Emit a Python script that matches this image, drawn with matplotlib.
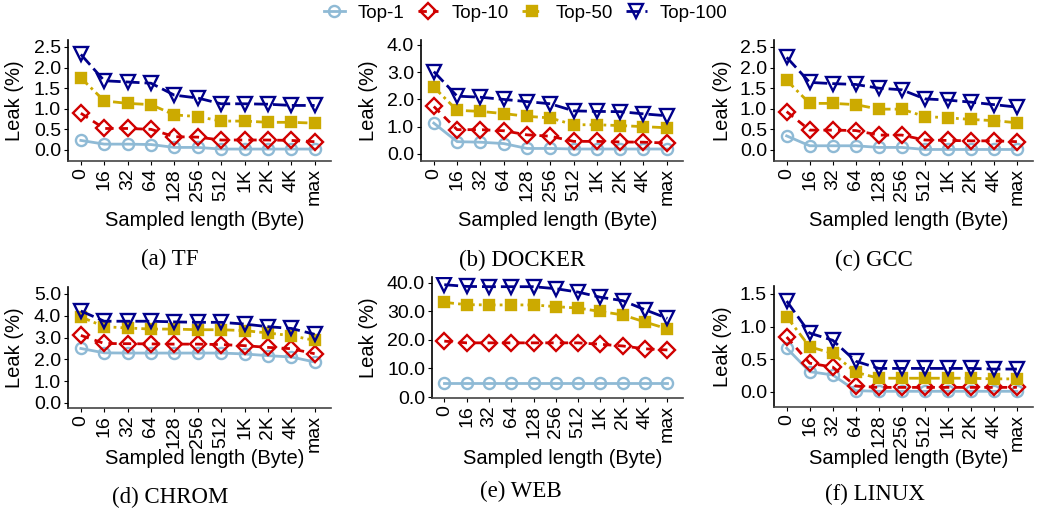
import numpy as np
import matplotlib
matplotlib.use("Agg")
import matplotlib.pyplot as plt

plt.rcParams['font.family'] = ['Liberation Sans', 'DejaVu Sans']

# categorias del eje x
longitudes = ["0", "16", "32", "64", "128", "256", "512", "1K", "2K", "4K", "max"]
series = ["Top-1", "Top-10", "Top-50", "Top-100"]

# valores (Leak %)
tf_top1 = [0.23, 0.14, 0.14, 0.13, 0.06, 0.06, 0.02, 0.02, 0.02, 0.02, 0.02]
tf_top10 = [0.89, 0.52, 0.52, 0.50, 0.32, 0.31, 0.24, 0.24, 0.24, 0.23, 0.20]
tf_top50 = [1.75, 1.19, 1.13, 1.10, 0.85, 0.81, 0.70, 0.70, 0.67, 0.67, 0.65]
tf_top100 = [2.32, 1.68, 1.65, 1.62, 1.33, 1.26, 1.12, 1.12, 1.11, 1.08, 1.08]

docker_top1 = [1.13, 0.45, 0.43, 0.38, 0.20, 0.20, 0.18, 0.18, 0.18, 0.18, 0.18]
docker_top10 = [1.74, 0.89, 0.89, 0.85, 0.70, 0.65, 0.46, 0.46, 0.44, 0.43, 0.40]
docker_top50 = [2.45, 1.60, 1.56, 1.48, 1.38, 1.32, 1.07, 1.07, 1.04, 1.00, 0.96]
docker_top100 = [3.02, 2.12, 2.08, 2.00, 1.92, 1.84, 1.58, 1.56, 1.55, 1.47, 1.40]

gcc_top1 = [0.34, 0.10, 0.10, 0.10, 0.06, 0.06, 0.01, 0.01, 0.01, 0.01, 0.01]
gcc_top10 = [0.93, 0.48, 0.48, 0.47, 0.36, 0.36, 0.24, 0.23, 0.22, 0.22, 0.20]
gcc_top50 = [1.69, 1.13, 1.13, 1.10, 0.99, 0.99, 0.81, 0.78, 0.74, 0.71, 0.66]
gcc_top100 = [2.25, 1.64, 1.61, 1.59, 1.50, 1.46, 1.24, 1.21, 1.16, 1.10, 1.04]

chrom_top1 = [2.50, 2.30, 2.29, 2.29, 2.29, 2.29, 2.29, 2.25, 2.17, 2.11, 1.88]
chrom_top10 = [3.10, 2.73, 2.72, 2.71, 2.70, 2.70, 2.68, 2.63, 2.55, 2.49, 2.26]
chrom_top50 = [3.95, 3.50, 3.44, 3.39, 3.39, 3.36, 3.36, 3.32, 3.21, 3.09, 2.87]
chrom_top100 = [4.22, 3.75, 3.75, 3.75, 3.72, 3.70, 3.70, 3.62, 3.50, 3.42, 3.15]

web_top1 = [5.0, 5.0, 5.0, 5.0, 5.0, 5.0, 5.0, 5.0, 5.0, 5.0, 5.0]
web_top10 = [19.6, 19.0, 19.0, 19.0, 19.0, 19.0, 19.0, 18.5, 17.9, 16.9, 16.5]
web_top50 = [33.2, 32.4, 32.3, 32.3, 32.3, 31.7, 31.2, 30.0, 28.8, 26.3, 23.9]
web_top100 = [39.4, 38.8, 38.7, 38.7, 38.7, 38.0, 36.8, 35.0, 33.8, 30.6, 27.6]

linux_top1 = [0.67, 0.31, 0.26, 0.02, 0.01, 0.01, 0.01, 0.01, 0.01, 0.01, 0.01]
linux_top10 = [0.84, 0.44, 0.38, 0.09, 0.07, 0.07, 0.07, 0.07, 0.07, 0.07, 0.07]
linux_top50 = [1.15, 0.69, 0.59, 0.30, 0.21, 0.21, 0.21, 0.21, 0.21, 0.20, 0.20]
linux_top100 = [1.39, 0.90, 0.79, 0.47, 0.36, 0.36, 0.36, 0.36, 0.36, 0.35, 0.35]

paneles = [
    ("(a) TF", [tf_top1, tf_top10, tf_top50, tf_top100]),
    ("(b) DOCKER", [docker_top1, docker_top10, docker_top50, docker_top100]),
    ("(c) GCC", [gcc_top1, gcc_top10, gcc_top50, gcc_top100]),
    ("(d) CHROM", [chrom_top1, chrom_top10, chrom_top50, chrom_top100]),
    ("(e) WEB", [web_top1, web_top10, web_top50, web_top100]),
    ("(f) LINUX", [linux_top1, linux_top10, linux_top50, linux_top100]),
]

colores = ["#8fbad5", "#d00000", "#ccaa00", "#00008b"]
marcadores = ["o", "D", "s", "v"]
tam_marcador = [8, 8.5, 7.5, 10.5]
relleno = ["none", "none", "full", "none"]
guiones = [None, (3, 2.2), (3.5, 1.5, 1, 1.5), (5, 1.8)]

# posiciones en pixeles: (izq, der, arriba, abajo)
W, H = 1041.0, 514.0
cajas = [(68, 331, 40, 161), (421, 683, 40, 161), (774, 1033, 40, 161),
         (68, 331, 287, 408), (432, 683, 277, 398), (774, 1033, 286, 407)]
ylims = [(-0.27, 2.67), (-0.26, 4.18), (-0.27, 2.67),
         (-0.23, 5.32), (-0.35, 42.1), (-0.23, 1.62)]
yticks = [np.arange(0, 2.51, 0.5), np.arange(0, 4.1, 1), np.arange(0, 2.51, 0.5),
          np.arange(0, 5.1, 1), np.arange(0, 40.1, 10), np.arange(0, 1.51, 0.5)]
xlabel_y = [220, 220, 220, 459, 459, 459]
ylabel_x = [15, 369, 722, 15, 368, 722]
caption_pos = [(170, 259), (522, 260), (874, 260), (170, 497), (521, 491), (875, 494)]

fig = plt.figure(figsize=(10.41, 5.14), dpi=100)
x = np.arange(len(longitudes))

handles = []
for k, (titulo, datos) in enumerate(paneles):
    l, r, t, b = cajas[k]
    ax = fig.add_axes([l / W, 1 - b / H, (r - l) / W, (b - t) / H])
    for i in range(4):
        linea, = ax.plot(x, datos[i], color=colores[i], lw=2.0,
                         marker=marcadores[i], ms=tam_marcador[i],
                         fillstyle=relleno[i], mew=1.7, label=series[i])
        if guiones[i] is not None:
            linea.set_dashes(guiones[i])
        if k == 0:
            handles.append(linea)
    ax.set_xlim(-0.55, 10.7)
    ax.set_ylim(*ylims[k])
    ax.set_yticks(yticks[k])
    ax.set_yticklabels(["%.1f" % v for v in yticks[k]])
    ax.set_xticks(x)
    ax.set_xticklabels(longitudes, rotation=90)
    ax.tick_params(labelsize=14, length=3, pad=2, colors="black")
    ax.spines["top"].set_visible(False)
    ax.spines["right"].set_visible(False)
    ax.spines["left"].set_linewidth(1.2)
    ax.spines["bottom"].set_linewidth(1.2)
    ax.spines["bottom"].set_color("#444444")

    fig.text((l + r) / 2 / W + 0.005, 1 - xlabel_y[k] / H, "Sampled length (Byte)",
             ha="center", va="center", fontsize=14.5)
    fig.text(ylabel_x[k] / W, 1 - ((t + b) / 2) / H, "Leak (%)", rotation=90,
             ha="center", va="center", fontsize=14.5)
    cx, cy = caption_pos[k]
    fig.text(cx / W, 1 - cy / H, titulo, ha="center", va="center",
             fontsize=16.5, family=["Liberation Serif", "DejaVu Serif"])

fig.legend(handles=handles, labels=series, loc="center", ncol=4,
           bbox_to_anchor=(0.505, 1 - 13 / H), frameon=False, fontsize=13.5,
           handlelength=1.1, handletextpad=0.7, columnspacing=0.7)

plt.savefig("out.png", dpi=100)
